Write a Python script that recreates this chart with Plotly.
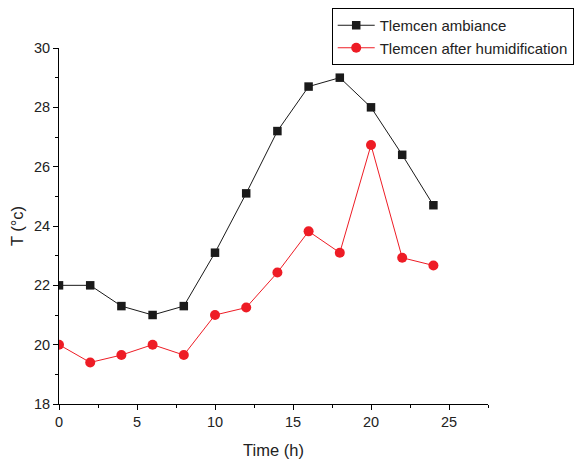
import plotly.graph_objects as go

time_h = [0, 2, 4, 6, 8, 10, 12, 14, 16, 18, 20, 22, 24]
ambiance = [22.0, 22.0, 21.3, 21.0, 21.3, 23.1, 25.1, 27.2, 28.7, 29.0, 28.0, 26.4, 24.7]
humidified = [20.0, 19.4, 19.65, 20.0, 19.65, 21.0, 21.25, 22.43, 23.82, 23.1, 26.73, 22.93, 22.67]

fig = go.Figure()
fig.add_trace(go.Scatter(
    x=time_h, y=ambiance, mode="lines+markers", name="Tlemcen ambiance",
    line=dict(color="#1a1a1a", width=1),
    marker=dict(symbol="square", size=8.5, color="#1a1a1a"),
))
fig.add_trace(go.Scatter(
    x=time_h, y=humidified, mode="lines+markers", name="Tlemcen after humidification",
    line=dict(color="#ee1c25", width=1),
    marker=dict(symbol="circle", size=10, color="#ee1c25"),
))

axis_common = dict(
    showline=True, linecolor="black", linewidth=1,
    ticks="outside", ticklen=5, tickcolor="black", tickwidth=1,
    showgrid=False, zeroline=False,
    tickfont=dict(family="Liberation Sans, Arial", size=14.5, color="#222"),
)

fig.update_layout(
    width=576, height=455,
    paper_bgcolor="white", plot_bgcolor="white",
    margin=dict(l=51, r=96, t=40, b=59, autoexpand=False),
    font=dict(family="Liberation Sans, Arial", color="#222"),
    xaxis=dict(range=[0, 27.5], tick0=0, dtick=5,
               minor=dict(dtick=2.5, ticks="outside", ticklen=3, tickcolor="black"),
               title=dict(text="Time (h)", font=dict(size=16.5), standoff=15),
               **axis_common),
    yaxis=dict(range=[18, 30], tick0=18, dtick=2,
               minor=dict(dtick=1, ticks="outside", ticklen=3, tickcolor="black"),
               title=dict(text="T (°c)", font=dict(size=16.5), standoff=9),
               **axis_common),
    legend=dict(
        xref="container", yref="container", x=0.562, y=1.0,
        xanchor="left", yanchor="top",
        bgcolor="white", bordercolor="black", borderwidth=1,
        font=dict(size=15, family="Liberation Sans, Arial", color="#222"),
        tracegroupgap=0, itemwidth=37,
    ),
    showlegend=True,
)

fig.write_html("out.html")
